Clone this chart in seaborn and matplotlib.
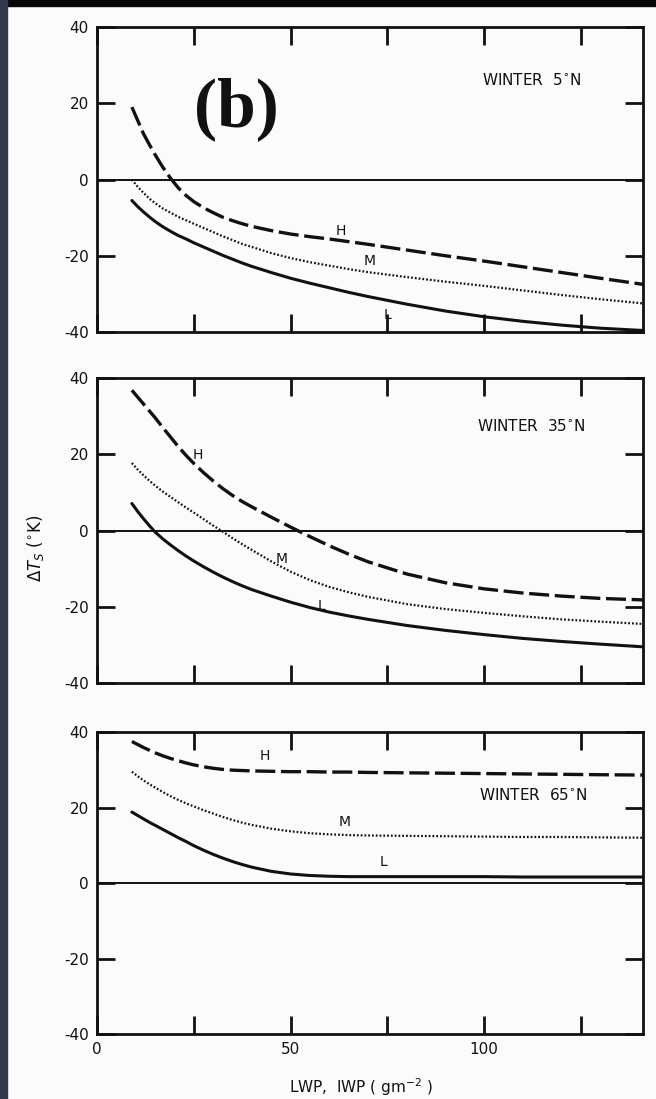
import matplotlib
matplotlib.use('Agg')
import matplotlib.pyplot as plt
import matplotlib.font_manager as fm
import pandas as pd
import seaborn as sns

# LWP / IWP (g m^-2) sample points, shared by every curve
lwp = [9, 10.5, 12, 13.5, 15, 17, 19, 21, 23, 25, 27.5, 30, 32.5, 35, 37.5, 40,
       45, 50, 55, 60, 65, 70, 80, 90, 100, 110, 120, 130, 141]

# WINTER 5N
h_5n = [19, 15.5, 12, 9.2, 6.5, 3.2, 0.3, -2.2, -4.2, -5.8, -7.4, -8.7, -9.9, -10.8, -11.6, -12.3,
        -13.4, -14.3, -15, -15.6, -16.3, -17, -18.5, -20, -21.4, -22.9, -24.4, -25.9, -27.5]
m_5n = [0, -1.9, -3.5, -5, -6.2, -7.6, -8.7, -9.8, -10.7, -11.6, -12.7, -13.8, -14.9, -15.9, -16.9, -17.7,
        -19.3, -20.6, -21.7, -22.6, -23.5, -24.3, -25.6, -26.8, -27.9, -29.1, -30.3, -31.4, -32.5]
l_5n = [-5.5, -7.1, -8.5, -9.8, -11, -12.4, -13.6, -14.7, -15.6, -16.6, -17.7, -18.8, -19.9, -20.9, -21.9, -22.8,
        -24.4, -25.9, -27.2, -28.4, -29.6, -30.7, -32.7, -34.5, -36, -37.2, -38.2, -39, -39.6]

# WINTER 35N
h_35n = [36.8, 35, 33.2, 31.4, 29.6, 27, 24.5, 22, 19.7, 17.6, 15.2, 13, 11, 9.2, 7.6, 6.2,
         3.5, 0.9, -1.6, -4, -6.2, -8.2, -11.4, -13.7, -15.3, -16.4, -17.2, -17.8, -18.2]
m_35n = [17.7, 16, 14.5, 13.1, 11.8, 10.2, 8.8, 7.4, 6, 4.7, 3, 1.3, -0.3, -2, -3.6, -5.1,
         -8.1, -10.8, -13, -14.8, -16.2, -17.4, -19.3, -20.6, -21.6, -22.5, -23.3, -23.9, -24.5]
l_35n = [7.1, 5, 3.1, 1.3, -0.4, -2.2, -3.8, -5.3, -6.7, -8, -9.5, -10.9, -12.2, -13.4, -14.5, -15.5,
         -17.2, -18.8, -20.2, -21.4, -22.4, -23.3, -24.9, -26.2, -27.3, -28.3, -29.1, -29.8, -30.5]

# WINTER 65N
h_65n = [37.5, 36.7, 35.9, 35.2, 34.5, 33.7, 33, 32.4, 31.8, 31.3, 30.8, 30.4, 30.1, 29.9, 29.8, 29.7,
         29.6, 29.5, 29.5, 29.4, 29.4, 29.3, 29.2, 29.1, 29, 28.9, 28.8, 28.7, 28.6]
m_65n = [29.5, 28.3, 27.2, 26.2, 25.3, 24.1, 23, 22, 21.1, 20.3, 19.3, 18.4, 17.5, 16.7, 16, 15.4,
         14.4, 13.7, 13.2, 12.9, 12.7, 12.6, 12.5, 12.4, 12.3, 12.2, 12.2, 12.1, 12]
l_65n = [18.8, 17.9, 17, 16.1, 15.3, 14.2, 13.1, 12, 11, 9.9, 8.7, 7.6, 6.6, 5.7, 4.9, 4.2,
         3.1, 2.4, 2, 1.8, 1.7, 1.7, 1.7, 1.7, 1.7, 1.6, 1.6, 1.6, 1.6]

panel_titles = ['WINTER  5$^{\\circ}$N', 'WINTER  35$^{\\circ}$N', 'WINTER  65$^{\\circ}$N']
series_names = ['H', 'M', 'L']
x_ticks = [0, 25, 50, 75, 100, 125]
x_tick_labels = ['0', '', '50', '', '100', '']
y_ticks = [-40, -20, 0, 20, 40]
y_tick_labels = ['-40', '-20', '0', '20', '40']

panels = [[h_5n, m_5n, l_5n], [h_35n, m_35n, l_35n], [h_65n, m_65n, l_65n]]
# where the H / M / L letters sit, per panel (data coords)
letter_pos = [
    [(63, -13.5), (70.5, -21.3), (75, -35.5)],
    [(26, 19.8), (47.7, -7.4), (58, -19.8)],
    [(43.3, 33.7), (64, 16.2), (74, 5.6)],
]
title_pos = [(99.5, 26), (98, 27.5), (98.7, 23.3)]

sns.set_style('ticks')
names = {f.name for f in fm.fontManager.ttflist}
font = 'Liberation Sans Narrow' if 'Liberation Sans Narrow' in names else 'DejaVu Sans'
plt.rcParams['font.family'] = [font, 'DejaVu Sans']
plt.rcParams['mathtext.fontset'] = 'dejavusans'

styles = {'H': (0, (6, 1.7)), 'M': (0, (0.8, 0.9)), 'L': '-'}
widths = {'H': 2.4, 'M': 1.6, 'L': 2.2}
ink = '#111111'

fig = plt.figure(figsize=(6.56, 10.99), dpi=100, facecolor='#fbfbfb')
fig.patches.append(plt.Rectangle((0, 0.9945), 1, 0.0055, transform=fig.transFigure,
                                 color='#080808', zorder=-1))
fig.patches.append(plt.Rectangle((0, 0), 0.0107, 1, transform=fig.transFigure,
                                 color='#34364a', zorder=-1))

boxes = [[0.1479, 0.6979, 0.8323, 0.2775],
         [0.1479, 0.3785, 0.8323, 0.2775],
         [0.1479, 0.0591, 0.8323, 0.2748]]

for i, (box, curves) in enumerate(zip(boxes, panels)):
    ax = fig.add_axes(box)
    ax.set_facecolor('#fbfbfb')
    df = pd.DataFrame({'lwp': lwp * 3,
                       'dT': curves[0] + curves[1] + curves[2],
                       'case': sum([[n] * len(lwp) for n in series_names], [])})
    for name in series_names:
        sub = df[df['case'] == name]
        sns.lineplot(data=sub, x='lwp', y='dT', ax=ax, color=ink,
                     linestyle=styles[name], lw=widths[name], legend=False,
                     solid_joinstyle='round', dash_joinstyle='round')
    ax.axhline(0, color=ink, lw=1.4, zorder=1)
    ax.set_xlim(0, 141)
    ax.set_ylim(-40, 40)
    ax.set_xticks(x_ticks)
    ax.set_yticks(y_ticks)
    ax.set_yticklabels(y_tick_labels)
    if i == 2:
        ax.set_xticklabels(x_tick_labels)
    else:
        ax.set_xticklabels([])
    ax.set_xlabel('')
    ax.set_ylabel('')
    ax.tick_params(direction='in', length=13, width=2, top=True, right=True,
                   labelsize=11, colors=ink, pad=6)
    for s in ax.spines.values():
        s.set_linewidth(2)
        s.set_color(ink)
    for name, (tx, ty) in zip(series_names, letter_pos[i]):
        ax.text(tx, ty, name, fontsize=10, ha='center', va='center', color=ink)
    ax.text(title_pos[i][0], title_pos[i][1], panel_titles[i], fontsize=11,
            ha='left', va='center', color=ink)
    if i == 0:
        ax.text(36, 18.5, '(b)', fontsize=50, fontweight='bold',
                family=['Liberation Serif', 'DejaVu Serif'],
                ha='center', va='center', color=ink)

fig.text(35 / 656, 1 - 548 / 1099, '$\\Delta T_S$ ($^{\\circ}$K)', rotation=90,
         fontsize=12, ha='center', va='center', color=ink)
fig.text(361 / 656, 1 - 1087 / 1099, 'LWP,  IWP ( gm$^{-2}$ )', fontsize=11,
         ha='center', va='center', color=ink)

fig.savefig('out.png', dpi=100, facecolor=fig.get_facecolor())
